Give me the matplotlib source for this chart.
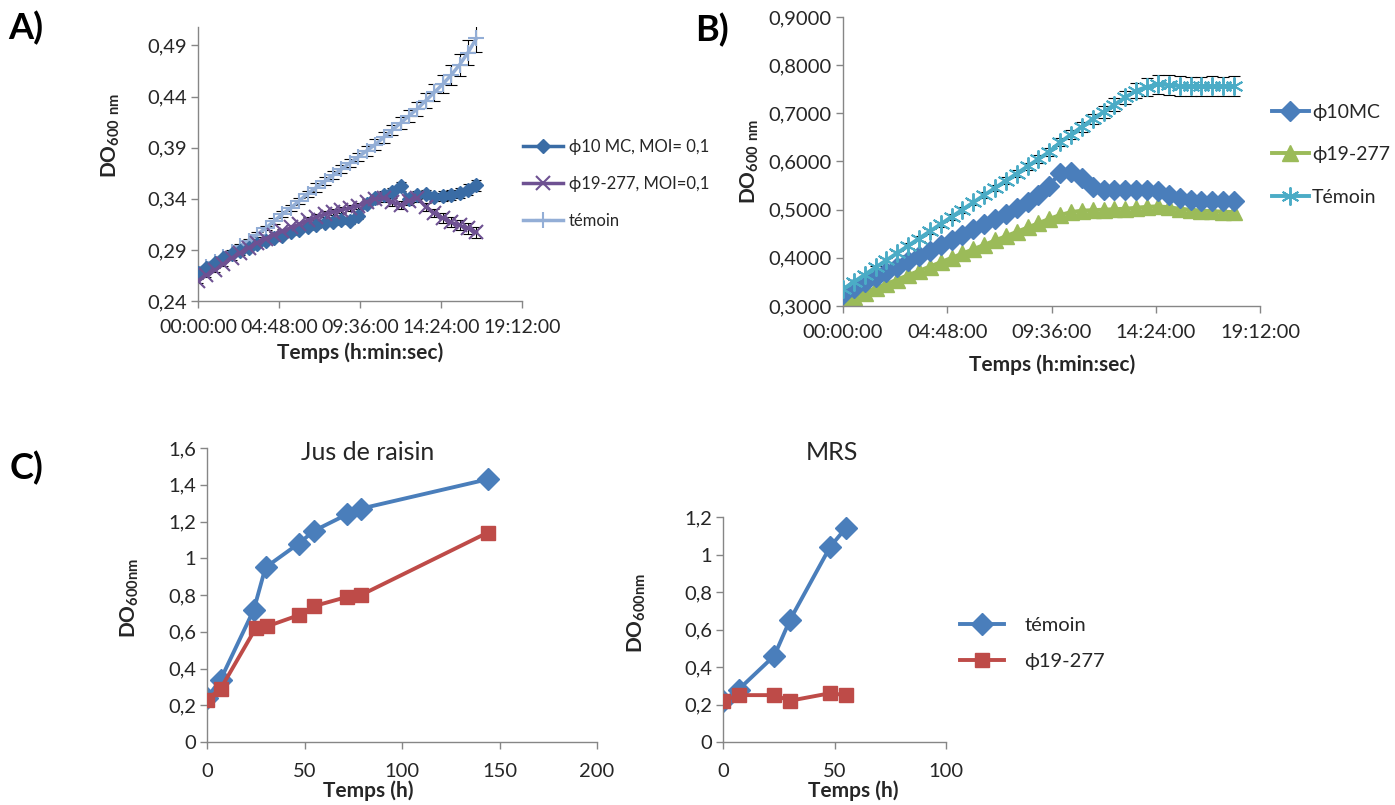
import numpy as np
import matplotlib.pyplot as plt
from matplotlib.ticker import FixedLocator

plt.rcParams['font.family'] = ['Lato', 'DejaVu Sans']
plt.rcParams['mathtext.fontset'] = 'custom'
plt.rcParams['mathtext.rm'] = 'Lato'
plt.rcParams['mathtext.bf'] = 'Lato:bold'

# ---- panel A : 30 min readings (hours)
t_a = [0.0, 0.5, 1.0, 1.5, 2.0, 2.5, 3.0, 3.5, 4.0, 4.5, 5.0, 5.5, 6.0, 6.5, 7.0, 7.5, 8.0,
       8.5, 9.0, 9.5, 10.0, 10.5, 11.0, 11.5, 12.0, 12.5, 13.0, 13.5, 14.0, 14.5, 15.0,
       15.5, 16.0, 16.5]
a_phi10 = [0.267, 0.272, 0.277, 0.282, 0.286, 0.289, 0.292, 0.296, 0.299, 0.302, 0.304,
           0.307, 0.309, 0.312, 0.314, 0.316, 0.317, 0.319, 0.318, 0.323, 0.335, 0.341,
           0.344, 0.347, 0.352, 0.340, 0.344, 0.345, 0.342, 0.343, 0.344, 0.346, 0.349, 0.353]
a_phi19 = [0.260, 0.265, 0.270, 0.276, 0.282, 0.287, 0.292, 0.297, 0.301, 0.305, 0.308,
           0.312, 0.315, 0.319, 0.322, 0.325, 0.327, 0.329, 0.331, 0.333, 0.337, 0.340,
           0.341, 0.337, 0.334, 0.338, 0.341, 0.332, 0.326, 0.321, 0.317, 0.314, 0.311, 0.307]
a_temoin = [0.268, 0.273, 0.278, 0.283, 0.288, 0.294, 0.299, 0.305, 0.311, 0.318, 0.325,
            0.331, 0.338, 0.345, 0.351, 0.357, 0.363, 0.369, 0.375, 0.381, 0.387, 0.393,
            0.400, 0.407, 0.414, 0.421, 0.428, 0.436, 0.444, 0.452, 0.461, 0.471, 0.483, 0.497]
a_err_phi = [0.002, 0.002, 0.002, 0.002, 0.002, 0.002, 0.002, 0.002, 0.002, 0.002, 0.002,
             0.002, 0.002, 0.003, 0.003, 0.003, 0.003, 0.003, 0.003, 0.003, 0.003, 0.003,
             0.004, 0.004, 0.004, 0.004, 0.004, 0.004, 0.004, 0.005, 0.005, 0.005, 0.005, 0.005]
a_err_tem = [0.001, 0.001, 0.001, 0.001, 0.002, 0.002, 0.002, 0.002, 0.002, 0.003, 0.003,
             0.003, 0.003, 0.003, 0.004, 0.004, 0.004, 0.004, 0.004, 0.004, 0.005, 0.005,
             0.005, 0.005, 0.006, 0.006, 0.007, 0.007, 0.008, 0.009, 0.010, 0.011, 0.012, 0.013]

# ---- panel B : 30 min readings (hours)
t_b = [0.0, 0.5, 1.0, 1.5, 2.0, 2.5, 3.0, 3.5, 4.0, 4.5, 5.0, 5.5, 6.0, 6.5, 7.0, 7.5, 8.0,
       8.5, 9.0, 9.5, 10.0, 10.5, 11.0, 11.5, 12.0, 12.5, 13.0, 13.5, 14.0, 14.5, 15.0,
       15.5, 16.0, 16.5, 17.0, 17.5, 18.0]
b_phi10 = [0.325, 0.337, 0.349, 0.360, 0.371, 0.382, 0.393, 0.404, 0.415, 0.426, 0.437,
           0.448, 0.459, 0.470, 0.481, 0.492, 0.503, 0.515, 0.530, 0.550, 0.577, 0.578,
           0.565, 0.548, 0.541, 0.540, 0.540, 0.541, 0.541, 0.539, 0.531, 0.525, 0.520,
           0.519, 0.518, 0.518, 0.519]
b_phi19 = [0.310, 0.319, 0.328, 0.337, 0.346, 0.355, 0.364, 0.373, 0.382, 0.391, 0.400,
           0.409, 0.418, 0.427, 0.436, 0.445, 0.454, 0.463, 0.472, 0.481, 0.489, 0.495,
           0.498, 0.499, 0.500, 0.501, 0.502, 0.504, 0.506, 0.507, 0.505, 0.502, 0.500,
           0.498, 0.497, 0.496, 0.495]
b_temoin = [0.335, 0.350, 0.365, 0.380, 0.395, 0.410, 0.425, 0.440, 0.455, 0.470, 0.485,
            0.500, 0.515, 0.530, 0.545, 0.560, 0.575, 0.590, 0.605, 0.620, 0.640, 0.656,
            0.672, 0.688, 0.703, 0.718, 0.733, 0.747, 0.755, 0.760, 0.759, 0.757, 0.756,
            0.756, 0.757, 0.756, 0.757]
b_err_phi = [0.003] * 37
b_err_tem = [0.004, 0.004, 0.004, 0.004, 0.004, 0.005, 0.005, 0.005, 0.005, 0.005, 0.006,
             0.006, 0.006, 0.006, 0.006, 0.007, 0.007, 0.007, 0.008, 0.008, 0.008, 0.009,
             0.010, 0.011, 0.012, 0.013, 0.014, 0.016, 0.018, 0.020, 0.020, 0.020, 0.020,
             0.020, 0.020, 0.020, 0.020]

# ---- panel C
t_jus = [0, 7, 24, 30, 47, 55, 72, 79, 144]
jus_temoin = [0.24, 0.34, 0.72, 0.95, 1.08, 1.15, 1.24, 1.27, 1.43]
t_jus_phi = [0, 7, 25, 31, 47, 55, 72, 79, 144]
jus_phi19 = [0.23, 0.29, 0.62, 0.63, 0.69, 0.74, 0.79, 0.80, 1.14]
t_mrs = [0, 7, 23, 30, 48, 55]
mrs_temoin = [0.22, 0.28, 0.46, 0.65, 1.04, 1.14]
mrs_phi19 = [0.22, 0.25, 0.25, 0.22, 0.26, 0.25]

time_ticks = [0, 4.8, 9.6, 14.4, 19.2]
time_labels = ['00:00:00', '04:48:00', '09:36:00', '14:24:00', '19:12:00']
a_yticks = [0.24, 0.29, 0.34, 0.39, 0.44, 0.49]
a_ylabels = ['0,24', '0,29', '0,34', '0,39', '0,44', '0,49']
b_yticks = [0.3, 0.4, 0.5, 0.6, 0.7, 0.8, 0.9]
b_ylabels = ['0,3000', '0,4000', '0,5000', '0,6000', '0,7000', '0,8000', '0,9000']
jus_yticks = [0, 0.2, 0.4, 0.6, 0.8, 1.0, 1.2, 1.4, 1.6]
jus_ylabels = ['0', '0,2', '0,4', '0,6', '0,8', '1', '1,2', '1,4', '1,6']
mrs_yticks = [0, 0.2, 0.4, 0.6, 0.8, 1.0, 1.2]
mrs_ylabels = ['0', '0,2', '0,4', '0,6', '0,8', '1', '1,2']

W, H = 1395, 805
SPINE = '#868686'
TXT = '#262626'


def excel_axes(fig, box, xfs, yfs, xpad=8):
    # box given in pixels: left, top, right, bottom
    l, t, r, b = box
    ax = fig.add_axes([l / W, 1 - b / H, (r - l) / W, (b - t) / H])
    for s in ['top', 'right']:
        ax.spines[s].set_visible(False)
    for s in ['left', 'bottom']:
        ax.spines[s].set_color(SPINE)
        ax.spines[s].set_linewidth(1.0)
    ax.tick_params(colors=SPINE, labelcolor=TXT, length=5, width=1, direction='out')
    ax.tick_params(axis='x', pad=xpad, labelsize=xfs)
    ax.tick_params(axis='y', pad=3, labelsize=yfs)
    return ax


def px_text(x, y, s, **kw):
    fig.text(x / W, 1 - y / H, s, ha='center', va='center', color=TXT, **kw)


def err(ax, x, y, e, cap):
    ax.errorbar(x, y, yerr=e, fmt='none', ecolor='black', elinewidth=0.8,
                capsize=cap, capthick=0.8, zorder=1)


fig = plt.figure(figsize=(W / 100, H / 100), dpi=100)

# ---------------- A
ax = excel_axes(fig, (198, 27, 522, 301), 14, 14.5)
err(ax, t_a, a_temoin, a_err_tem, 4)
err(ax, t_a, a_phi10, a_err_phi, 3.5)
err(ax, t_a, a_phi19, a_err_phi, 3.5)
ax.plot(t_a, a_phi10, color='#3A6CA5', lw=2.5, marker='D', ms=7.5, label='ϕ10 MC, MOI= 0,1', zorder=3)
ax.plot(t_a, a_phi19, color='#6E5192', lw=2.5, marker='x', ms=10, mew=1.5, label='ϕ19-277, MOI=0,1', zorder=4)
ax.plot(t_a, a_temoin, color='#93AED6', lw=2.5, marker='+', ms=11, mew=1.5, label='témoin', zorder=2)
ax.set_xlim(0, 19.2)
ax.set_ylim(0.24, 0.508)
ax.xaxis.set_major_locator(FixedLocator(time_ticks))
ax.set_xticklabels(time_labels)
ax.yaxis.set_major_locator(FixedLocator(a_yticks))
ax.set_yticklabels(a_ylabels)
px_text(360, 353, 'Temps (h:min:sec)', fontsize=15, fontweight='bold')
px_text(111, 136, r'$\mathbf{DO_{600\ nm}}$', fontsize=15, rotation=90)
ax.legend(loc='upper left', bbox_to_anchor=(523 / W, 1 - 139 / H), bbox_transform=fig.transFigure,
          frameon=False, fontsize=12, handlelength=2.4, handletextpad=0.35, labelspacing=1.25,
          borderpad=0, borderaxespad=0, labelcolor=TXT)

# ---------------- B
ax = excel_axes(fig, (843, 17, 1260, 306), 14.5, 14.5)
err(ax, t_b, b_temoin, b_err_tem, 4)
err(ax, t_b, b_phi10, b_err_phi, 2.5)
err(ax, t_b, b_phi19, b_err_phi, 2.5)
ax.plot(t_b, b_phi10, color='#4A7EBB', lw=2.8, marker='D', ms=10, label='ϕ10MC', zorder=3)
ax.plot(t_b, b_phi19, color='#9BBB59', lw=2.8, marker='^', ms=12, label='ϕ19-277', zorder=2)
ax.plot(t_b, b_temoin, color='#4BACC6', lw=2.8, marker=(6, 2, 0), ms=13, mew=1.4, label='Témoin', zorder=4)
ax.set_xlim(0, 19.2)
ax.set_ylim(0.3, 0.9)
ax.xaxis.set_major_locator(FixedLocator(time_ticks))
ax.set_xticklabels(time_labels)
ax.yaxis.set_major_locator(FixedLocator(b_yticks))
ax.set_yticklabels(b_ylabels)
px_text(1052, 365, 'Temps (h:min:sec)', fontsize=15, fontweight='bold')
px_text(750, 162, r'$\mathbf{DO_{600\ nm}}$', fontsize=15, rotation=90)
ax.legend(loc='upper left', bbox_to_anchor=(1272 / W, 1 - 104 / H), bbox_transform=fig.transFigure,
          frameon=False, fontsize=14, handlelength=1.9, handletextpad=0.15, labelspacing=1.3,
          borderpad=0, borderaxespad=0, labelcolor=TXT)

# ---------------- C : Jus de raisin
ax = excel_axes(fig, (207, 448, 597, 742), 14.5, 14.5, xpad=10)
ax.plot(t_jus, jus_temoin, color='#4A7EBB', lw=2.8, marker='D', ms=11, zorder=2)
ax.plot(t_jus_phi, jus_phi19, color='#BE4B48', lw=2.8, marker='s', ms=10.5, zorder=3)
ax.set_xlim(0, 200)
ax.set_ylim(0, 1.6)
ax.set_xticks([0, 50, 100, 150, 200])
ax.yaxis.set_major_locator(FixedLocator(jus_yticks))
ax.set_yticklabels(jus_ylabels)
ax.patch.set_visible(False)
px_text(368, 791, 'Temps (h)', fontsize=15, fontweight='bold')
px_text(130, 598, r'$\mathbf{DO_{600nm}}$', fontsize=15, rotation=90)

# ---------------- C : MRS
ax = excel_axes(fig, (723, 517, 946, 742), 14.5, 14.5, xpad=10)
ax.plot(t_mrs, mrs_temoin, color='#4A7EBB', lw=2.8, marker='D', ms=11, label='témoin', zorder=2)
ax.plot(t_mrs, mrs_phi19, color='#BE4B48', lw=2.8, marker='s', ms=10.5, label='ϕ19-277', zorder=3)
ax.set_xlim(0, 100)
ax.set_ylim(0, 1.2)
ax.set_xticks([0, 50, 100])
ax.yaxis.set_major_locator(FixedLocator(mrs_yticks))
ax.set_yticklabels(mrs_ylabels)
px_text(853, 791, 'Temps (h)', fontsize=15, fontweight='bold')
px_text(637, 613, r'$\mathbf{DO_{600nm}}$', fontsize=15, rotation=90)
ax.legend(loc='upper left', bbox_to_anchor=(960 / W, 1 - 617 / H), bbox_transform=fig.transFigure,
          frameon=False, fontsize=14.5, handlelength=2.2, handletextpad=1.0, labelspacing=0.95,
          borderpad=0, borderaxespad=0, labelcolor=TXT)

# titles and panel letters
px_text(368, 452, 'Jus de raisin', fontsize=18)
px_text(832, 452, 'MRS', fontsize=18)
fig.text(8 / W, 1 - 28 / H, 'A)', fontsize=26, fontweight='bold', ha='left', va='center')
fig.text(695 / W, 1 - 30 / H, 'B)', fontsize=26, fontweight='bold', ha='left', va='center')
fig.text(10 / W, 1 - 468 / H, 'C)', fontsize=26, fontweight='bold', ha='left', va='center')

fig.savefig('out.png', dpi=100)
